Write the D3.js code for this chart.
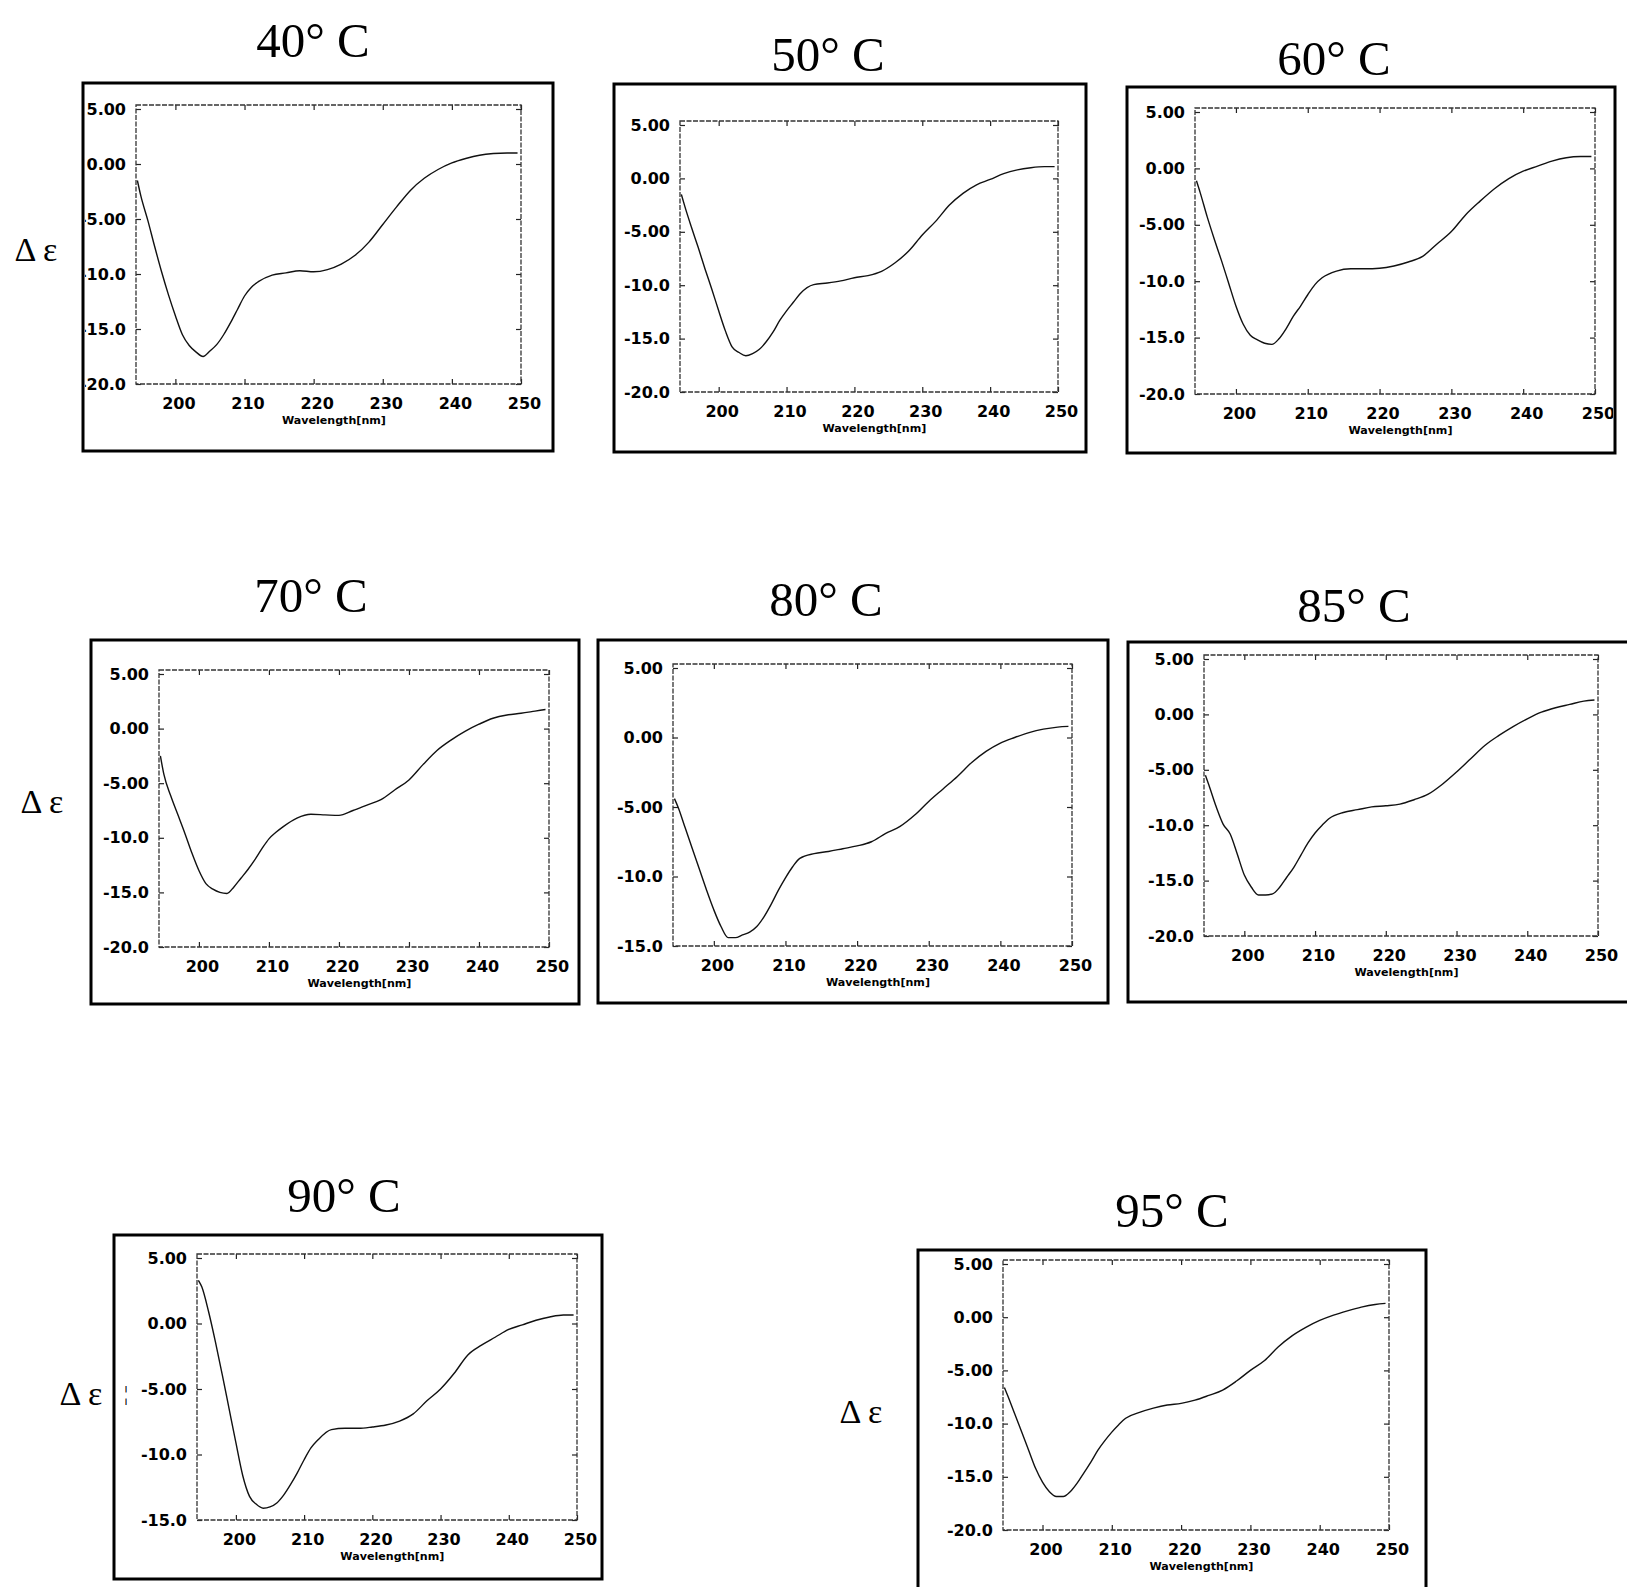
<!DOCTYPE html>
<html>
<head>
<meta charset="utf-8">
<script src="https://cdn.jsdelivr.net/npm/d3@7"></script>
<style>
body { margin: 0; background: #fff; }
</style>
</head>
<body>
<div id="chart"></div>
<script>
// Wavelength grid (nm) shared by every CD spectrum
var wavelengths = [194.5, 195, 196, 197, 198, 199, 200, 201, 202, 203, 204, 205, 206, 207, 208, 209, 210, 211, 212,
    214, 216, 218, 220, 222, 224, 226, 228, 230, 232, 234, 236, 238, 240, 242, 244, 246, 248, 249.5];

// Delta epsilon
var cd40 = [-1.5, -2.9, -5.1, -7.5, -9.8, -11.9, -13.8, -15.5, -16.5, -17.1, -17.5, -17.0, -16.4, -15.5, -14.4, -13.2, -12.0, -11.2, -10.7,
    -10.1, -9.9, -9.7, -9.8, -9.6, -9.1, -8.3, -7.1, -5.5, -3.9, -2.4, -1.3, -0.5, 0.1, 0.5, 0.8, 0.95, 1.0, 1.0];
var cd50 = [-1.5, -2.6, -4.6, -6.5, -8.5, -10.4, -12.4, -14.3, -15.8, -16.3, -16.6, -16.4, -16.0, -15.3, -14.4, -13.3, -12.4, -11.6, -10.8,
    -9.95, -9.8, -9.6, -9.3, -9.1, -8.7, -7.9, -6.8, -5.3, -4.0, -2.5, -1.4, -0.6, -0.1, 0.45, 0.8, 1.0, 1.1, 1.1];
var cd60 = [-1.1, -2.1, -4.3, -6.3, -8.2, -10.2, -12.2, -13.8, -14.8, -15.2, -15.5, -15.6, -15.1, -14.2, -13.1, -12.2, -11.2, -10.3, -9.7,
    -9.1, -8.9, -8.9, -8.85, -8.65, -8.3, -7.8, -6.7, -5.6, -4.1, -2.9, -1.8, -0.9, -0.25, 0.2, 0.65, 0.95, 1.05, 1.05];
var cd70 = [-2.5, -4.2, -6.2, -7.9, -9.6, -11.4, -13.0, -14.2, -14.7, -15.0, -15.1, -14.5, -13.7, -12.9, -12.0, -11.0, -10.1, -9.5, -9.0,
    -8.2, -7.85, -7.9, -7.95, -7.5, -7.0, -6.5, -5.6, -4.7, -3.3, -2.0, -1.05, -0.25, 0.4, 0.95, 1.25, 1.4, 1.6, 1.75];
var cd80 = [-4.4, -5.0, -6.5, -8.0, -9.5, -11.0, -12.4, -13.6, -14.4, -14.4, -14.2, -14.0, -13.6, -12.9, -12.0, -11.0, -10.1, -9.3, -8.7,
    -8.35, -8.2, -8.0, -7.8, -7.5, -6.9, -6.4, -5.6, -4.6, -3.7, -2.8, -1.8, -1.0, -0.4, 0.0, 0.35, 0.6, 0.75, 0.8];
var cd85 = [-5.5, -6.4, -8.3, -9.9, -10.8, -12.6, -14.5, -15.6, -16.3, -16.3, -16.2, -15.6, -14.7, -13.8, -12.7, -11.6, -10.7, -10.0, -9.4,
    -8.85, -8.6, -8.35, -8.25, -8.1, -7.7, -7.2, -6.3, -5.2, -4.0, -2.8, -1.9, -1.1, -0.4, 0.2, 0.6, 0.9, 1.2, 1.3];
var cd90 = [3.3, 2.8, 0.9, -1.4, -3.9, -6.5, -9.1, -11.6, -13.2, -13.8, -14.1, -14.0, -13.7, -13.1, -12.3, -11.4, -10.4, -9.5, -8.9,
    -8.1, -8.0, -8.0, -7.9, -7.75, -7.45, -6.9, -5.9, -5.0, -3.8, -2.4, -1.65, -1.05, -0.45, -0.1, 0.25, 0.5, 0.65, 0.65];
var cd95 = [-6.6, -7.4, -9.1, -10.8, -12.5, -14.2, -15.5, -16.4, -16.85, -16.85, -16.4, -15.6, -14.6, -13.6, -12.5, -11.6, -10.8, -10.1, -9.5,
    -8.95, -8.55, -8.25, -8.1, -7.8, -7.35, -6.85, -6.0, -5.0, -4.1, -2.8, -1.75, -0.95, -0.3, 0.2, 0.6, 0.95, 1.2, 1.3];

var titles = ["40° C", "50° C", "60° C", "70° C", "80° C", "85° C", "90° C", "95° C"];
var xTicks = [200, 210, 220, 230, 240, 250];
var yTicksTo20 = [5, 0, -5, -10, -15, -20];
var yTicksTo15 = [5, 0, -5, -10, -15];
var xLabel = "Wavelength[nm]";
var yLabel = "Δ ε";

// Page layout: where each scanned panel sits (box = outer frame, plot = inner frame)
var panels = [
    {values: cd40, title: titles[0], box: [83, 83, 553, 451], plot: [136, 105, 521, 384], tx: 313, ty: 40, ticks: yTicksTo20, delta: [36, 249]},
    {values: cd50, title: titles[1], box: [614, 84, 1086, 452], plot: [680, 121, 1058, 392], tx: 828, ty: 54, ticks: yTicksTo20},
    {values: cd60, title: titles[2], box: [1127, 87, 1615, 453], plot: [1195, 108, 1595, 394], tx: 1334, ty: 58, ticks: yTicksTo20},
    {values: cd70, title: titles[3], box: [91, 640, 579, 1004], plot: [159, 670, 549, 947], tx: 311, ty: 595, ticks: yTicksTo20, delta: [42, 801]},
    {values: cd80, title: titles[4], box: [598, 640, 1108, 1003], plot: [673, 664, 1072, 946], tx: 826, ty: 599, ticks: yTicksTo15},
    {values: cd85, title: titles[5], box: [1128, 642, 1650, 1002], plot: [1204, 655, 1598, 936], tx: 1354, ty: 605, ticks: yTicksTo20},
    {values: cd90, title: titles[6], box: [114, 1235, 602, 1579], plot: [197, 1254, 577, 1520], tx: 344, ty: 1195, ticks: yTicksTo15, delta: [81, 1393], mark: true},
    {values: cd95, title: titles[7], box: [918, 1250, 1426, 1610], plot: [1003, 1260, 1389, 1530], tx: 1172, ty: 1210, ticks: yTicksTo20, delta: [861, 1411]}
];

var W = 1627, H = 1587;
var serif = "'Liberation Serif', 'Times New Roman', serif";
var sans = "'DejaVu Sans', Verdana, sans-serif";

var svg = d3.select("#chart")
    .append("svg")
    .attr("width", W)
    .attr("height", H)
    .style("display", "block");

function fmt(d) {
    // 5.00, 0.00, -5.00, -10.0 ...
    return Math.abs(d) < 10 ? d.toFixed(2) : d.toFixed(1);
}

panels.forEach(function(p, i) {
    var b = p.box, r = p.plot;
    var yMin = d3.min(p.ticks);

    var x = d3.scaleLinear()
        .domain([194.3, 250])
        .range([r[0], r[2]]);
    var y = d3.scaleLinear()
        .domain([yMin, 5])
        .range([r[3], r[1] + 4]);

    // Title above each panel
    svg.append("text")
        .attr("x", p.tx)
        .attr("y", p.ty)
        .attr("dy", "0.35em")
        .attr("text-anchor", "middle")
        .style("font-family", serif)
        .style("font-size", "49px")
        .text(p.title);

    if (p.delta) {
        svg.append("text")
            .attr("x", p.delta[0])
            .attr("y", p.delta[1])
            .attr("dy", "0.35em")
            .attr("text-anchor", "middle")
            .style("font-family", serif)
            .style("font-size", "34px")
            .text(yLabel);
    }
    if (p.mark) {
        svg.append("text")
            .attr("x", b[0] + 12)
            .attr("y", p.delta[1])
            .attr("dy", "0.35em")
            .attr("text-anchor", "middle")
            .style("font-family", serif)
            .style("font-size", "20px")
            .text("¦");
    }

    // Everything inside the outer frame is clipped to it (scanned crop)
    svg.append("clipPath")
        .attr("id", "clip" + i)
        .append("rect")
        .attr("x", b[0] + 2)
        .attr("y", b[1])
        .attr("width", b[2] - b[0] - 4)
        .attr("height", b[3] - b[1]);

    var g = svg.append("g")
        .attr("clip-path", "url(#clip" + i + ")");

    // Y axis labels and inward ticks
    g.append("g")
        .attr("transform", "translate(" + r[0] + ",0)")
        .call(d3.axisLeft(y).tickValues(p.ticks).tickFormat(fmt).tickSize(-5).tickPadding(10));
    g.append("g")
        .attr("transform", "translate(" + r[2] + ",0)")
        .call(d3.axisRight(y).tickValues(p.ticks).tickFormat("").tickSize(-5));

    // X axis labels and inward ticks
    var xAxis = g.append("g")
        .attr("transform", "translate(0," + r[3] + ")")
        .call(d3.axisBottom(x).tickValues(xTicks).tickFormat(d3.format("d")).tickSize(-5).tickPadding(14));
    g.append("g")
        .attr("transform", "translate(0," + r[1] + ")")
        .call(d3.axisTop(x).tickValues(xTicks).tickFormat("").tickSize(-5));

    g.selectAll(".domain").remove();
    g.selectAll(".tick line")
        .attr("stroke", "#222")
        .attr("stroke-width", 1.2);
    g.selectAll(".tick text")
        .attr("fill", "#000")
        .style("font-family", sans)
        .style("font-weight", "bold")
        .style("font-size", "16px");
    xAxis.selectAll(".tick text")
        .attr("dx", 3);

    // Inner plot frame, a dotted look like the scan
    g.append("rect")
        .attr("x", r[0])
        .attr("y", r[1])
        .attr("width", r[2] - r[0])
        .attr("height", r[3] - r[1])
        .attr("fill", "none")
        .attr("stroke", "#333")
        .attr("stroke-width", 1.3)
        .attr("stroke-dasharray", "5,1.5");

    // Wavelength caption under the ticks
    g.append("text")
        .attr("x", x(222.5) + 3)
        .attr("y", r[3] + 40)
        .attr("text-anchor", "middle")
        .attr("textLength", 104)
        .attr("lengthAdjust", "spacingAndGlyphs")
        .style("font-family", sans)
        .style("font-weight", "bold")
        .style("font-size", "11px")
        .text(xLabel);

    // The spectrum
    var line = d3.line()
        .x(function(d, j) { return x(wavelengths[j]); })
        .y(function(d) { return y(d); })
        .curve(d3.curveMonotoneX);

    g.append("path")
        .datum(p.values)
        .attr("d", line)
        .attr("fill", "none")
        .attr("stroke", "#111")
        .attr("stroke-width", 1.4);

    // Outer frame
    svg.append("rect")
        .attr("x", b[0])
        .attr("y", b[1])
        .attr("width", b[2] - b[0])
        .attr("height", b[3] - b[1])
        .attr("fill", "none")
        .attr("stroke", "#000")
        .attr("stroke-width", 3);
});
</script>
</body>
</html>
